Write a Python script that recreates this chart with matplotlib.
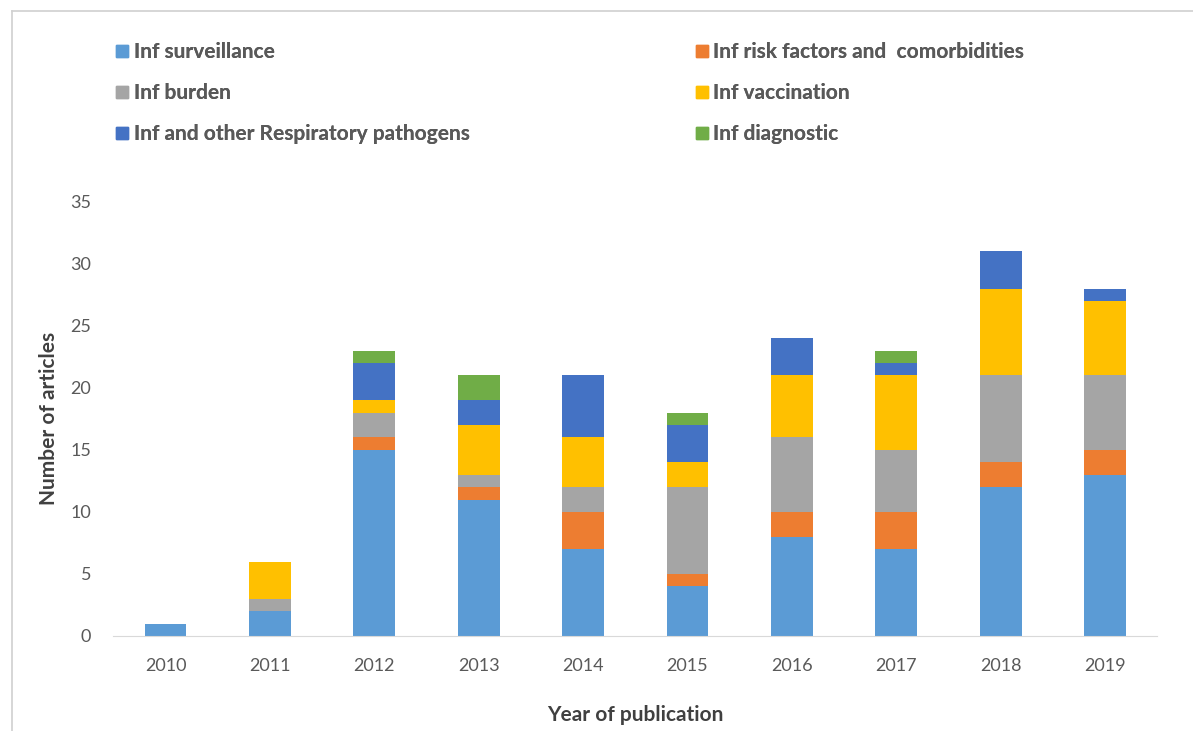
import matplotlib.pyplot as plt
from matplotlib.lines import Line2D
import numpy as np

plt.rcParams['font.family'] = ['Lato', 'DejaVu Sans']

years = ["2010", "2011", "2012", "2013", "2014", "2015", "2016", "2017", "2018", "2019"]
series_names = [
    "Inf surveillance",
    "Inf risk factors and  comorbidities",
    "Inf burden",
    "Inf vaccination",
    "Inf and other Respiratory pathogens",
    "Inf diagnostic",
]
surveillance = [1, 2, 15, 11, 7, 4, 8, 7, 12, 13]
risk_factors = [0, 0, 1, 1, 3, 1, 2, 3, 2, 2]
burden = [0, 1, 2, 1, 2, 7, 6, 5, 7, 6]
vaccination = [0, 3, 1, 4, 4, 2, 5, 6, 7, 6]
respiratory = [0, 0, 3, 2, 5, 3, 3, 1, 3, 1]
diagnostic = [0, 0, 1, 2, 0, 1, 0, 1, 0, 0]
colors = ["#5B9BD5", "#ED7D31", "#A5A5A5", "#FFC000", "#4472C4", "#70AD47"]

series = [surveillance, risk_factors, burden, vaccination, respiratory, diagnostic]

fig = plt.figure(figsize=(11.93, 7.31), dpi=100)
ax = fig.add_axes([0.095, 0.13, 0.875, 0.594])

x = np.arange(len(years))
bottom = np.zeros(len(years))
for vals, col, name in zip(series, colors, series_names):
    ax.bar(x, vals, width=0.4, bottom=bottom, color=col, label=name)
    bottom += np.array(vals)

ax.set_ylim(0, 35)
ax.set_xlim(-0.5, len(years) - 0.5)
ax.set_yticks(range(0, 36, 5))
ax.set_xticks(x)
ax.set_xticklabels(years)
ax.tick_params(axis='x', length=0, labelsize=13, labelcolor="#595959", pad=16)
ax.tick_params(axis='y', length=0, labelsize=13, labelcolor="#595959", pad=16)
for s in ["top", "right", "left"]:
    ax.spines[s].set_visible(False)
ax.spines["bottom"].set_color("#D9D9D9")

ax.set_xlabel("Year of publication", fontsize=15, fontweight="bold", color="#404040", labelpad=22)
ax.set_ylabel("Number of articles", fontsize=15, fontweight="bold", color="#404040", labelpad=8)

# legend in two columns like the original
def handle(c):
    return Line2D([], [], marker='s', linestyle='none', markersize=9, color=c)

left_idx = [0, 2, 4]
right_idx = [1, 3, 5]
for idx, xpos in [(left_idx, 0.078), (right_idx, 0.564)]:
    leg = fig.legend([handle(colors[i]) for i in idx], [series_names[i] for i in idx],
                     loc="upper left", bbox_to_anchor=(xpos, 0.968), frameon=False,
                     fontsize=15, labelspacing=1.0, handletextpad=0.05, handlelength=1.0)
    for t in leg.get_texts():
        t.set_color("#595959")
        t.set_fontweight("bold")
    fig.add_artist(leg)

# thin frame on left and top like the cropped source
fig.add_artist(Line2D([0.01, 0.01], [0.0, 0.985], color="#D0D0D0", lw=1.2))
fig.add_artist(Line2D([0.01, 1.0], [0.985, 0.985], color="#D0D0D0", lw=1.2))

fig.savefig("out.png", dpi=100)
